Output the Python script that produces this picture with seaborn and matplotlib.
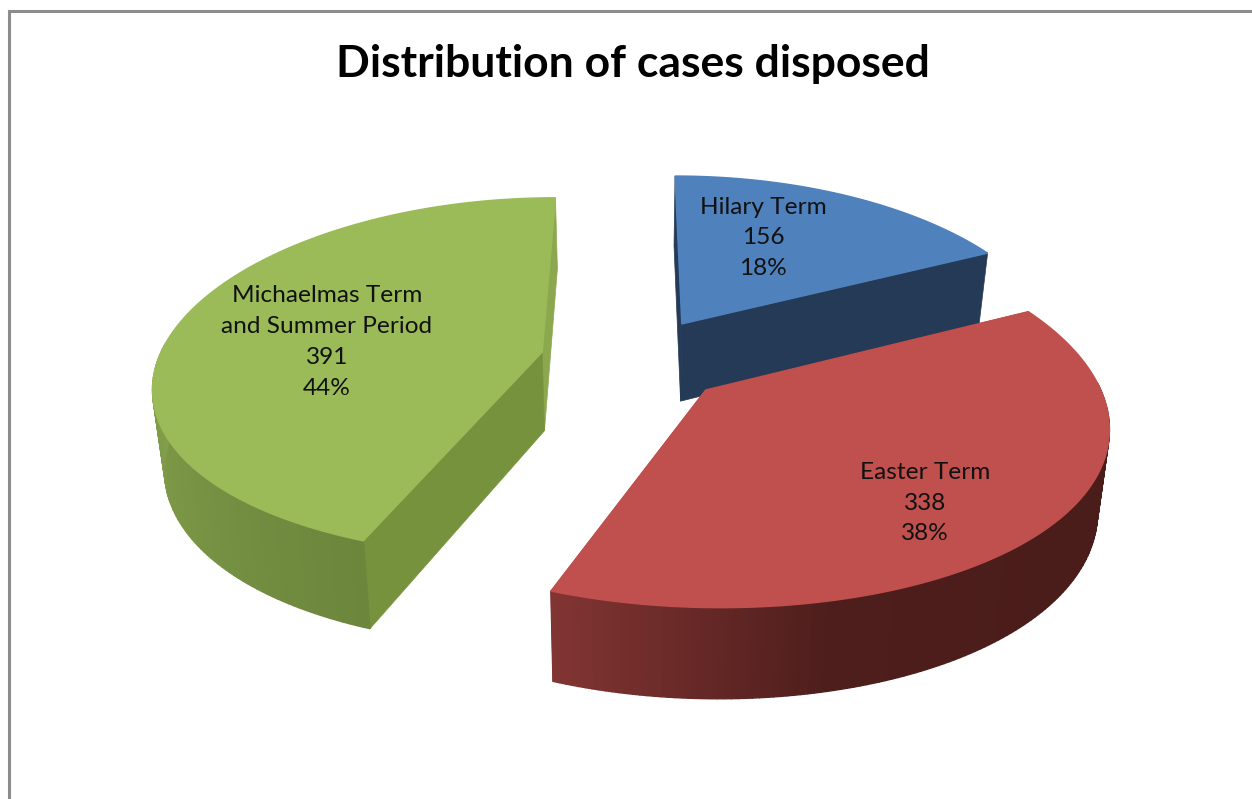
import numpy as np
import seaborn as sns
import matplotlib.pyplot as plt

# data
terms = ['Hilary Term', 'Easter Term', 'Michaelmas Term\nand Summer Period']
cases = [156, 338, 391]
percents = ['18%', '38%', '44%']
title = 'Distribution of cases disposed'

# colours per wedge
top_colors = ['#4F81BD', '#C0504D', '#9BBB59']
start_face = ['#243A56', '#4A1C1A', '#76923C']
end_face = ['#243A56', '#7F3331', '#8BA84F']
side_ramps = [['#243A56', '#243A56'],
              ['#4A1C1A', '#4A1C1A', '#4A1C1A', '#4E1E1C', '#823533'],
              ['#6C863C', '#7A9645', '#86A34D', '#88A64E', '#88A64E']]
label_xy = [(763, 238), (925, 503), (327, 342)]

# pie geometry in pixels
cx, cy = 634, 360
rx, ry = 384, 178
persp_x, persp_y = 0.17, 0.14
explode = 0.245
depth = 79

sns.set_theme(style='white')
plt.rcParams['font.family'] = ['Lato', 'DejaVu Sans']


def project(X, Y, drop=0.0):
    w = 1 + persp_y * Y
    px = cx + rx * X / (1 + persp_x * Y)
    py = cy - ry * Y / w
    if drop:
        px = cx + (px - cx) * 0.975
        py = py + drop / w ** 0.8
    return px, py


def wedge_points(a0, a1, mid, n=160):
    t = np.linspace(a0, a1, n)
    ox, oy = explode * np.sin(mid), explode * np.cos(mid)
    return ox + np.sin(t), oy + np.cos(t), ox, oy


fig = plt.figure(figsize=(12.52, 7.99), dpi=100)
ax = fig.add_axes([0, 0, 1, 1])
ax.set_xlim(0, 1252)
ax.set_ylim(799, 0)
ax.axis('off')

# chart frame, the right and bottom sides are cut off in the picture
ax.plot([9, 9, 1252], [799, 11, 11], color='#8C8C8C', lw=2.2, solid_joinstyle='miter')

ax.text(633, 64, title, ha='center', va='center', fontsize=32, fontweight='bold', color='black')

fractions = np.array(cases) / np.sum(cases)
edges = np.concatenate([[0], np.cumsum(fractions)]) * 2 * np.pi

# green goes first, then blue, red sits in front of blue
for i in [2, 0, 1]:
    a0, a1 = edges[i], edges[i + 1]
    mid = (a0 + a1) / 2
    X, Y, ox, oy = wedge_points(a0, a1, mid)

    # cut faces
    for k, col in ((-1, end_face[i]), (0, start_face[i])):
        ex, ey = X[k], Y[k]
        p = [project(ox, oy), project(ex, ey), project(ex, ey, depth), project(ox, oy, depth)]
        ax.fill(*zip(*p), color=col, lw=0.5, zorder=2 + i)

    # rounded outer side, one thin quad per step for the shading
    ramp = sns.blend_palette(side_ramps[i], len(X))
    for j in range(len(X) - 1):
        if np.cos(a0 + (a1 - a0) * j / (len(X) - 1)) > 0.05:
            continue
        p = [project(X[j], Y[j]), project(X[j + 1], Y[j + 1]),
             project(X[j + 1], Y[j + 1], depth), project(X[j], Y[j], depth)]
        ax.fill(*zip(*p), color=ramp[j], lw=1, zorder=2 + i)

    # top
    tx, ty = project(np.r_[ox, X], np.r_[oy, Y])
    ax.fill(tx, ty, color=top_colors[i], lw=1, zorder=2 + i)

    ax.text(label_xy[i][0], label_xy[i][1], f'{terms[i]}\n{cases[i]}\n{percents[i]}',
            ha='center', va='center', fontsize=17.6, color='#111111',
            linespacing=1.57, zorder=10)

fig.savefig('out.png', dpi=100)
